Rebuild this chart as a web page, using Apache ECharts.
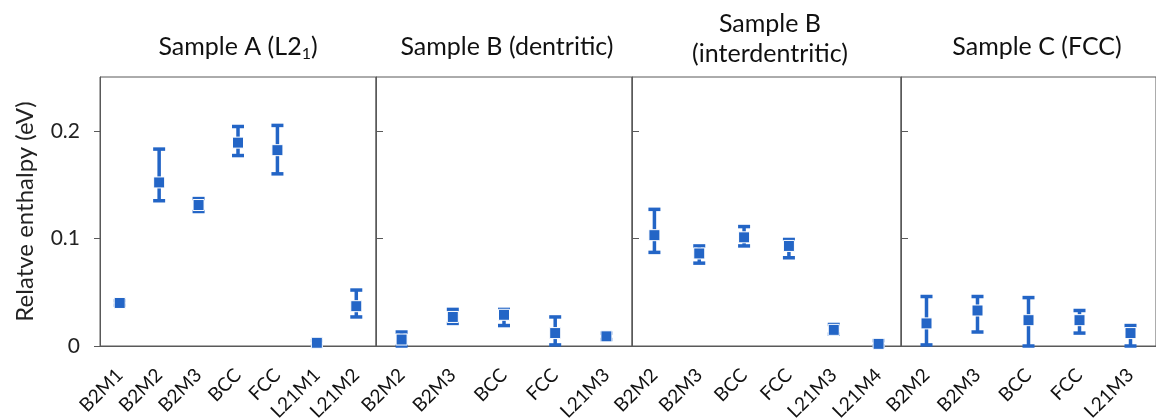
<!DOCTYPE html>
<html>
<head>
<meta charset="utf-8">
<script src="https://cdn.jsdelivr.net/npm/echarts@6/dist/echarts.min.js"></script>
<style>
  html, body { margin: 0; padding: 0; background: #fff; }
  #chart { width: 1156px; height: 419px; }
</style>
</head>
<body>
<div id="chart"></div>
<script>
// Sample A (L2_1)
const catsA = ['B2M1', 'B2M2', 'B2M3', 'BCC', 'FCC', 'L21M1', 'L21M2']
const meanA = [0.040, 0.152, 0.131, 0.189, 0.182, 0.003, 0.037]
const lowA  = [0.038, 0.135, 0.125, 0.177, 0.160, 0.000, 0.027]
const highA = [0.042, 0.183, 0.137, 0.204, 0.205, 0.005, 0.052]

// Sample B (dentritic)
const catsB = ['B2M2', 'B2M3', 'BCC', 'FCC', 'L21M3']
const meanB = [0.006, 0.027, 0.029, 0.012, 0.009]
const lowB  = [0.000, 0.021, 0.019, 0.001, 0.006]
const highB = [0.013, 0.034, 0.034, 0.027, 0.012]

// Sample B (interdentritic)
const catsBi = ['B2M2', 'B2M3', 'BCC', 'FCC', 'L21M3', 'L21M4']
const meanBi = [0.103, 0.086, 0.101, 0.093, 0.015, 0.002]
const lowBi  = [0.087, 0.077, 0.093, 0.082, 0.011, 0.000]
const highBi = [0.127, 0.093, 0.111, 0.099, 0.020, 0.005]

// Sample C (FCC)
const catsC = ['B2M2', 'B2M3', 'BCC', 'FCC', 'L21M3']
const meanC = [0.021, 0.033, 0.024, 0.024, 0.012]
const lowC  = [0.001, 0.013, 0.000, 0.012, 0.000]
const highC = [0.046, 0.046, 0.045, 0.033, 0.019]

const yTicks = [0, 0.1, 0.2]

const blue = '#2365c6'
const axisGrey = '#595959'
const font = 'Lato'

const panels = [
  { cats: catsA, mean: meanA, low: lowA, high: highA, left: 100, width: 276 },
  { cats: catsB, mean: meanB, low: lowB, high: highB, left: 376, width: 256 },
  { cats: catsBi, mean: meanBi, low: lowBi, high: highBi, left: 632, width: 269 },
  { cats: catsC, mean: meanC, low: lowC, high: highC, left: 901, width: 255 }
]

const errorBar = (params, api) => {
  const x = api.value(0)
  const lo = api.coord([x, api.value(1)])
  const hi = api.coord([x, api.value(2)])
  const cap = 6
  const style = { stroke: blue, lineWidth: 3.5 }
  return {
    type: 'group',
    children: [
      { type: 'line', shape: { x1: lo[0], y1: lo[1], x2: hi[0], y2: hi[1] }, style },
      { type: 'line', shape: { x1: lo[0] - cap, y1: lo[1], x2: lo[0] + cap, y2: lo[1] }, style },
      { type: 'line', shape: { x1: hi[0] - cap, y1: hi[1], x2: hi[0] + cap, y2: hi[1] }, style }
    ]
  }
}

const grid = [], xAxis = [], yAxis = [], series = []
panels.forEach((p, i) => {
  grid.push({
    left: p.left, width: p.width, top: 77, height: 269,
    outerBoundsMode: 'none', containLabel: false,
    show: true, borderColor: axisGrey, borderWidth: 1
  })
  xAxis.push({
    type: 'category', gridIndex: i, data: p.cats,
    axisLine: { lineStyle: { color: axisGrey } },
    axisTick: { show: false },
    axisLabel: { rotate: 45, fontSize: 19, color: '#111', fontFamily: font, margin: 26, interval: 0 }
  })
  yAxis.push({
    type: 'value', gridIndex: i, min: 0, max: 0.25, interval: 0.1,
    splitLine: { show: false },
    axisLine: { show: true, lineStyle: { color: axisGrey } },
    axisTick: { show: true, inside: i > 0, length: i > 0 ? 7 : 6, customValues: yTicks, lineStyle: { color: axisGrey } },
    axisLabel: { show: i === 0, customValues: yTicks, fontSize: 21, color: '#222', fontFamily: font, margin: 20 },
    name: i === 0 ? 'Relatve enthalpy (eV)' : '',
    nameLocation: 'middle', nameRotate: 90, nameGap: 63,
    nameTextStyle: { fontSize: 24, color: '#222', fontFamily: font }
  })
  series.push({
    type: 'custom', xAxisIndex: i, yAxisIndex: i, clip: false, z: 3,
    renderItem: errorBar,
    data: p.cats.map((c, k) => [k, p.low[k], p.high[k]])
  })
  series.push({
    type: 'scatter', xAxisIndex: i, yAxisIndex: i, z: 4,
    symbol: 'rect', symbolSize: 11,
    itemStyle: { color: blue, borderColor: '#fff', borderWidth: 1, opacity: 1 },
    data: p.cats.map((c, k) => [k, p.mean[k]])
  })
})

const titleStyle = { fontSize: 25, fontWeight: 'normal', color: '#111', fontFamily: font, lineHeight: 30,
  rich: { sub: { fontSize: 16, fontFamily: font, color: '#111', verticalAlign: 'bottom', padding: [12, 0, 0, 0] } } }

const chart = echarts.init(document.getElementById('chart'))
chart.setOption({
  animation: false,
  title: [
    { text: 'Sample A (L2{sub|1})', left: 233, top: 27, textAlign: 'center', textStyle: titleStyle },
    { text: 'Sample B (dentritic)', left: 502, top: 27, textAlign: 'center', textStyle: titleStyle },
    { text: 'Sample B\n(interdentritic)', left: 765, top: 4, textAlign: 'center', textStyle: titleStyle },
    { text: 'Sample C (FCC)', left: 1032, top: 27, textAlign: 'center', textStyle: titleStyle }
  ],
  grid, xAxis, yAxis, series
})
</script>
</body>
</html>
